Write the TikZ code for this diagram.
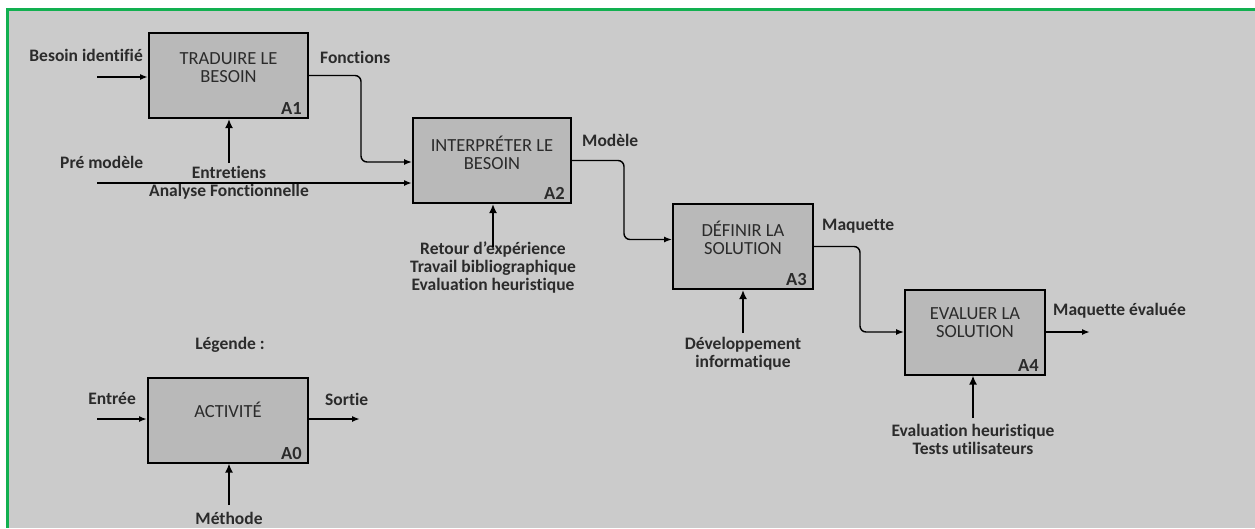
\documentclass[tikz,border=0pt]{standalone}
\usepackage{fontspec}
\setmainfont{Carlito}[Ligatures={NoCommon}]
\usetikzlibrary{arrows.meta, positioning}
\definecolor{fond}{HTML}{CBCBCB}
\definecolor{boite}{HTML}{B9B9B9}
\definecolor{vert}{HTML}{12B050}
\definecolor{encre}{HTML}{2B2B2B}

\begin{document}
\begin{tikzpicture}[
  x=1pt, y=-1pt,
  activite/.style={draw=black, line width=2pt, fill=boite, minimum height=85pt, inner sep=0pt},
  titre/.style={text=encre, font=\fontsize{18.5}{18}\selectfont, align=center, inner sep=0pt},
  etiquette/.style={text=encre, font=\bfseries\fontsize{17.5}{18}\selectfont, align=center, inner sep=0pt},
  numero/.style={text=encre, font=\bfseries\fontsize{18.5}{18}\selectfont, anchor=south east, inner sep=0pt},
  entree/.style={-{Latex[length=8pt, width=6pt]}, line width=1.8pt},
  controle/.style={-{Latex[length=9pt, width=8pt]}, line width=2.4pt},
  flux/.style={-{Latex[length=8pt, width=6pt]}, line width=1.4pt, rounded corners=6pt}
]
\useasboundingbox (0,0) rectangle (1255,528);
\fill[fond] (7,9.5) rectangle (1255,528);
\draw[vert, line width=3pt] (1255,9.5) -- (7,9.5) -- (7,528);

\node[activite, minimum width=159pt] (a1) at (228.5,75.5) {};
\node[activite, minimum width=158pt] (a2) at (492,160.5) {};
\node[activite, minimum width=140pt] (a3) at (743,246.5) {};
\node[activite, minimum width=140pt] (a4) at (975,332) {};
\node[activite, minimum width=160pt] (a0) at (228,420) {};

\node[titre] at ([yshift=8pt]a1.center) {TRADUIRE LE\\BESOIN};
\node[titre] at ([yshift=8pt]a2.center) {INTERPRÉTER LE\\BESOIN};
\node[titre] at ([yshift=9pt]a3.center) {DÉFINIR LA\\SOLUTION};
\node[titre] at ([yshift=9pt]a4.center) {EVALUER LA\\SOLUTION};
\node[titre] at ([yshift=10pt]a0.center) {ACTIVITÉ};

\node[numero] at ([xshift=-7pt, yshift=4pt]a1.south east) {A1};
\node[numero] at ([xshift=-7pt, yshift=4pt]a2.south east) {A2};
\node[numero] at ([xshift=-7pt, yshift=4pt]a3.south east) {A3};
\node[numero] at ([xshift=-7pt, yshift=4pt]a4.south east) {A4};
\node[numero] at ([xshift=-7pt, yshift=4pt]a0.south east) {A0};

\node[etiquette, anchor=east] (besoin) at (143,55) {Besoin identifié};
\node[etiquette, anchor=west] (fonctions) at (320,57) {Fonctions};
\node[etiquette, anchor=west] (premodele) at (60,162) {Pré modèle};
\node[etiquette] (entretiens) at (229,183) {Entretiens\\Analyse Fonctionnelle};
\node[etiquette, anchor=west] (modele) at (582,140) {Modèle};
\node[etiquette] (retour) at (493,268) {Retour d’expérience\\Travail bibliographique\\Evaluation heuristique};
\node[etiquette, anchor=west] (maquette) at (822,226) {Maquette};
\node[etiquette] (dev) at (743,354) {Développement\\informatique};
\node[etiquette, anchor=west] (evaluee) at (1053,311) {Maquette évaluée};
\node[etiquette] (tests) at (973,439) {Evaluation heuristique\\Tests utilisateurs};
\node[etiquette] (legende) at (230,345) {Légende :};
\node[etiquette, anchor=east] (entree) at (136,399) {Entrée};
\node[etiquette, anchor=west] (sortie) at (325,399) {Sortie};
\node[etiquette] (methode) at (229,518) {Méthode};

\coordinate (inA1) at (97,77);
\coordinate (inPre) at (97,183);
\coordinate (ctA1) at (229,163);
\coordinate (ctA2) at (493,247);
\coordinate (ctA3) at (743,333);
\coordinate (ctA4) at (973,418);
\coordinate (outA4) at (1090,332);
\coordinate (inA0) at (97,419);
\coordinate (outA0) at (360,419);
\coordinate (ctA0) at (229,505);

\draw[entree] (inA1) -- (inA1 -| a1.west);
\draw[entree] (inPre) -- (inPre -| a2.west);
\draw[flux] (a1.east) -- ++(52,0) |- ([yshift=-1.5pt]a2.west);
\draw[flux] (a2.east) -- ++(52,0) |- ([yshift=7pt]a3.west);
\draw[flux] (a3.east) -- ++(46,0) |- (a4.west);
\draw[entree] (a4.east) -- (outA4);
\draw[controle] (ctA1) -- (ctA1 |- a1.south);
\draw[controle] (ctA2) -- (ctA2 |- a2.south);
\draw[controle] (ctA3) -- (ctA3 |- a3.south);
\draw[controle] (ctA4) -- (ctA4 |- a4.south);

\draw[entree] (inA0) -- (inA0 -| a0.west);
\draw[entree] (a0.east |- outA0) -- (outA0);
\draw[controle] (ctA0) -- (ctA0 |- a0.south);
\end{tikzpicture}
\end{document}
